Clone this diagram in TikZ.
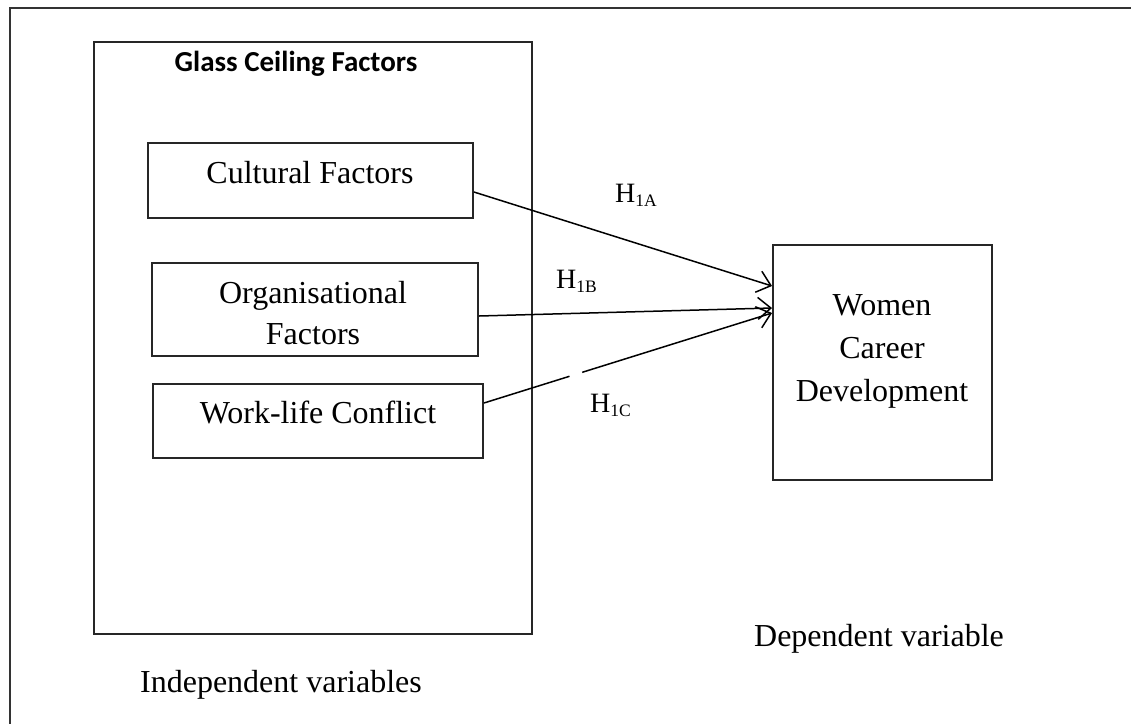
\documentclass[tikz,border=0pt]{standalone}
\usepackage{fontspec}
\setmainfont{Liberation Serif}
\newfontfamily\titlefont{Carlito}
\usetikzlibrary{arrows.meta,calc}
\tikzset{
  box/.style={draw=black!85, line width=1.9pt, rectangle, inner sep=0pt},
  txt/.style={anchor=base, inner sep=0pt, font=\fontsize{32}{42}\selectfont},
  hlab/.style={anchor=base west, inner sep=0pt},
  arr/.style={line width=1.5pt, -{Straight Barb[length=13pt,width=22pt,line width=1.5pt]}},
  plain/.style={line width=1.5pt}
}
\newcommand{\hyp}[1]{{\fontsize{28}{30}\selectfont H\raisebox{-4pt}{\fontsize{17.5}{18}\selectfont #1}}}
\begin{document}
\begin{tikzpicture}[x=1pt,y=-1pt]
\useasboundingbox (0,0) rectangle (1131,724);
% outer frame (cropped on right and bottom)
\draw[draw=black!80, line width=2.4pt] (1131,8) -- (10,8) -- (10,724);
% big group box
\node[box, minimum width=438pt, minimum height=592pt] (group) at (313,338) {};
\node[anchor=base, inner sep=0pt, font=\titlefont\bfseries\fontsize{29}{32}\selectfont] (title) at (296,71) {Glass Ceiling Factors};
% factor boxes
\node[box, minimum width=325pt, minimum height=75pt] (cult) at (310.5,180.5) {};
\node[txt] (culttxt) at (310,183) {Cultural Factors};
\node[box, minimum width=326pt, minimum height=93pt] (org) at (315,309.5) {};
\node[txt, align=center, font=\fontsize{32}{41}\selectfont] (orgtxt) at (313,344) {Organisational\\Factors};
\node[box, minimum width=330pt, minimum height=74pt] (wl) at (318,421) {};
\node[txt] (wltxt) at (318,423) {Work-life Conflict};
% dependent box
\node[box, minimum width=219pt, minimum height=235pt] (women) at (882.5,362.5) {};
\node[txt, align=center, font=\fontsize{32}{43}\selectfont] (womentxt) at (882,401) {Women\\Career\\Development};
% captions
\node[txt] (indep) at (281,692) {Independent variables};
\node[txt] (dep) at (879,646) {Dependent variable};
% connectors
\coordinate (a1) at ([yshift=-11.5pt]cult.east);
\coordinate (a2) at ([yshift=76.5pt]women.west);
\coordinate (b1) at ([yshift=-6.5pt]org.east);
\coordinate (b2) at ([yshift=54.5pt]women.west);
\coordinate (c1) at ([yshift=18pt]wl.east);
\coordinate (c2) at ([yshift=49.5pt]women.west);
\draw[arr] (a1) -- (a2);
\draw[arr] (b1) -- (b2);
\draw[plain] (c1) -- ($(c1)!0.297!(c2)$);
\draw[arr] ($(c1)!0.341!(c2)$) -- (c2);
% hypothesis labels
\node[hlab] (h1a) at (615,202) {\hyp{1A}};
\node[hlab] (h1b) at (556,288) {\hyp{1B}};
\node[hlab] (h1c) at (590,412) {\hyp{1C}};
\end{tikzpicture}
\end{document}
